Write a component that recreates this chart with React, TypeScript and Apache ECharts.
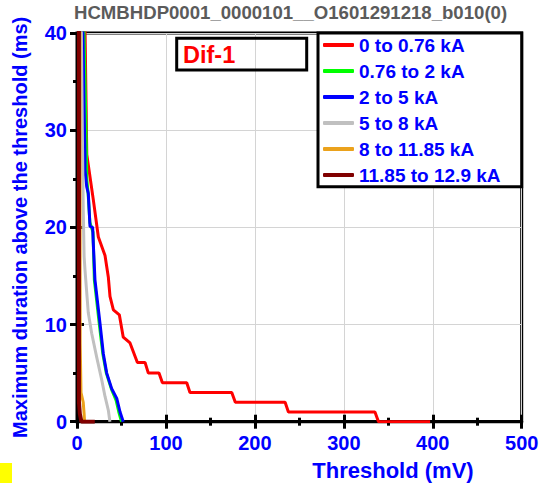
import React, { useEffect, useRef } from "react";
import * as echarts from "echarts";

const FONT = "'Liberation Sans', Arial, sans-serif";

const chartTitle = "HCMBHDP0001_0000101__O1601291218_b010(0)";
const boxLabel = "Dif-1";
const xName = "Threshold (mV)";
const yName = "Maximum duration above the threshold (ms)";

const seriesNames = [
  "0 to 0.76 kA",
  "0.76 to 2 kA",
  "2 to 5 kA",
  "5 to 8 kA",
  "8 to 11.85 kA",
  "11.85 to 12.9 kA",
];
const seriesColors = ["#ff0000", "#00ff00", "#0000ff", "#c0c0c0", "#eba21c", "#800000"];

// [threshold mV, max duration ms]
const range1 = [
  [3, 80], [11, 27.5], [18.4, 22.8], [24, 19], [31.5, 17.1], [35.2, 14.9], [37.1, 12.9],
  [40.9, 11.5], [47.6, 11], [52, 8.7], [59.6, 8.1], [67.9, 6.1], [76.5, 6.1], [80.2, 5],
  [92.2, 5], [96, 4], [123.4, 4], [127, 3], [174, 3], [178, 2], [234, 2], [237.7, 1],
  [335, 1], [339, 0], [397, 0],
];
const range2 = [
  [7, 44], [9.5, 33], [10.5, 28], [11, 25], [12.5, 23.5], [14.5, 20.5], [18, 19.5],
  [19.5, 14.6], [25, 10.1], [29, 7], [33, 5], [38.5, 3.4], [44, 2.2], [47, 1], [50, 0],
];
const range3 = [
  [6, 44], [8, 32], [9, 27.3], [9, 25.9], [10.9, 24.2], [12.7, 23.5], [14.6, 20.1],
  [17.6, 20], [18.3, 18.4], [20.2, 14.6], [25.9, 10.1], [29.6, 7], [33.4, 5], [39, 3.4],
  [44.7, 2.4], [48.4, 1], [52, 0],
];
const range4 = [
  [4.5, 44], [6, 30], [7, 22], [8, 17], [9, 15.6], [12.7, 11.2], [16.5, 9.1], [22, 6.7],
  [27.8, 4.3], [31.5, 2.6], [35.2, 1.2], [37, 0],
];
const range5 = [[3.2, 44], [3.6, 8], [4.5, 3], [7, 2], [8, 0.8], [8.5, 0]];
const range6 = [[2.2, 44], [2.2, 2], [3.2, 0.8], [5, 0], [20, 0]];

const seriesData = [range1, range2, range3, range4, range5, range6];
const seriesWidths = [3, 3, 3, 3, 3, 4];

export default function App() {
  const ref = useRef<HTMLDivElement>(null);

  useEffect(() => {
    if (!ref.current) return;
    const chart = echarts.init(ref.current, undefined, { renderer: "svg" });

    const labelStyle = {
      color: "#0000ff",
      fontSize: 20,
      fontWeight: "bold" as const,
      fontFamily: FONT,
    };

    chart.setOption({
      animation: false,
      backgroundColor: "#ffffff",
      title: {
        text: chartTitle,
        left: 74,
        top: 3,
        padding: 0,
        textStyle: { color: "#5b5b5b", fontSize: 18.6, fontWeight: "bold", fontFamily: FONT },
      },
      grid: {
        left: 77,
        right: 19.3,
        top: 33,
        bottom: 61.3,
        show: true,
        borderColor: "#000",
        borderWidth: 3,
        backgroundColor: "transparent",
        outerBoundsMode: "none",
      },
      legend: {
        orient: "vertical",
        left: 318,
        top: 33,
        padding: [2, 5, 2, 5],
        itemWidth: 31,
        itemHeight: 4,
        itemGap: 6,
        icon: "roundRect",
        z: 5,
        data: seriesNames,
        textStyle: { ...labelStyle, fontSize: 19, lineHeight: 20 },
      },
      xAxis: [
        {
          type: "value",
          min: 0,
          max: 500,
          interval: 100,
          axisLine: { show: true, onZero: false, lineStyle: { color: "#000", width: 3 } },
          axisTick: { show: true, length: 7, lineStyle: { color: "#000", width: 3 } },
          minorTick: { show: true, splitNumber: 2, length: 4, lineStyle: { color: "#000", width: 3 } },
          axisLabel: { ...labelStyle, margin: 11 },
          splitLine: { show: true, lineStyle: { color: "#d4d4d4", width: 1 } },
        },
        {
          type: "value",
          position: "bottom",
          min: 0,
          max: 500,
          interval: 100,
          axisLine: { show: false },
          axisTick: { show: true, inside: true, length: 7, lineStyle: { color: "#000", width: 3 } },
          minorTick: { show: true, splitNumber: 2, length: 4, lineStyle: { color: "#000", width: 3 } },
          axisLabel: { show: false },
          splitLine: { show: false },
        },
      ],
      yAxis: [
        {
          type: "value",
          min: 0,
          max: 40,
          interval: 10,
          name: yName,
          nameLocation: "middle",
          nameGap: 47,
          nameTextStyle: { ...labelStyle, fontSize: 20 },
          axisLine: { show: true, onZero: false, lineStyle: { color: "#000", width: 3 } },
          axisTick: { show: true, length: 7, lineStyle: { color: "#000", width: 3 } },
          minorTick: { show: true, splitNumber: 2, length: 4, lineStyle: { color: "#000", width: 3 } },
          axisLabel: { ...labelStyle, margin: 10 },
          splitLine: { show: true, lineStyle: { color: "#d4d4d4", width: 1 } },
        },
        {
          type: "value",
          position: "left",
          min: 0,
          max: 40,
          interval: 10,
          axisLine: { show: false },
          axisTick: { show: true, inside: true, length: 7, lineStyle: { color: "#000", width: 3 } },
          minorTick: { show: true, splitNumber: 2, length: 4, lineStyle: { color: "#000", width: 3 } },
          axisLabel: { show: false },
          splitLine: { show: false },
        },
      ],
      series: seriesData.map((data, i) => ({
        name: seriesNames[i],
        type: "line",
        data,
        symbol: "none",
        clip: true,
        z: 2 + i * 0.01,
        lineStyle: { color: seriesColors[i], width: seriesWidths[i] },
        itemStyle: { color: seriesColors[i] },
      })),
      graphic: [
        {
          type: "rect",
          z: 4,
          shape: { x: 318, y: 33, width: 203.7, height: 153.7 },
          style: { fill: "#ffffff", stroke: "#000000", lineWidth: 3 },
        },
        {
          type: "rect",
          z: 4,
          shape: { x: 176.7, y: 38.3, width: 130, height: 31.7 },
          style: { fill: "transparent", stroke: "#000000", lineWidth: 3 },
        },
        {
          type: "text",
          z: 5,
          x: 183,
          y: 54.5,
          style: {
            text: boxLabel,
            fill: "#ff0000",
            font: `bold 23.5px ${FONT}`,
            textAlign: "left",
            textVerticalAlign: "middle",
          },
        },
        {
          type: "text",
          z: 5,
          x: 393,
          y: 470.5,
          style: {
            text: xName,
            fill: "#0000ff",
            font: `bold 22px ${FONT}`,
            textAlign: "center",
            textVerticalAlign: "middle",
          },
        },
        {
          type: "rect",
          z: 5,
          shape: { x: 0, y: 463, width: 12, height: 20 },
          style: { fill: "#ffff00" },
        },
      ],
    });

    return () => chart.dispose();
  }, []);

  return (
    <div
      ref={ref}
      style={{ position: "fixed", left: 0, top: 0, width: 541, height: 483 }}
    />
  );
}
